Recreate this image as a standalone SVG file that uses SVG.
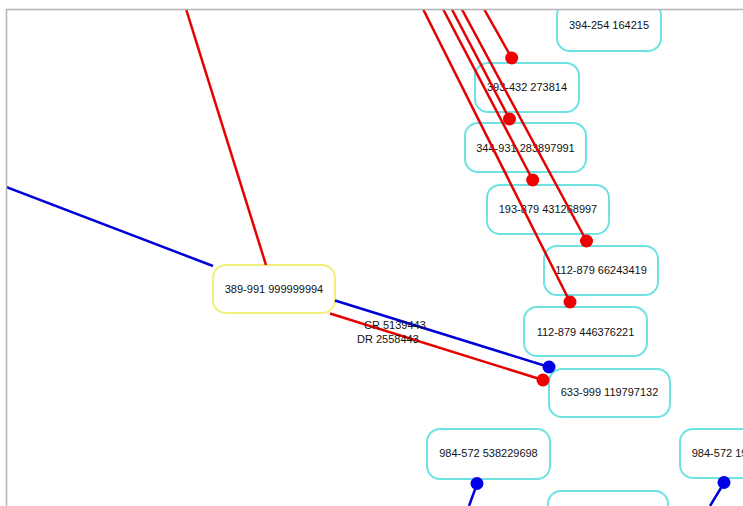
<svg xmlns="http://www.w3.org/2000/svg" width="743" height="506" viewBox="0 0 743 506">
<defs>
<clipPath id="vp"><rect x="6" y="9" width="737" height="497"/></clipPath>
<style>
.n rect{fill:#fff;stroke:#6fe3e3;stroke-width:2}
.y rect{fill:#fff;stroke:#f2f07a;stroke-width:2}
text{font-family:"Liberation Sans",Arial,sans-serif;font-size:11px;fill:#111}
.n text,.y text{text-anchor:middle}
.r{stroke:#e60000;stroke-width:2.5;fill:none}
.b{stroke:#0000d8;stroke-width:2.5;fill:none}
.rd{fill:#f00000}
.bd{fill:#0000e6}
</style>
</defs>
<rect width="743" height="506" fill="#fff"/>
<g clip-path="url(#vp)">
<g id="nodes">
<g id="n394" class="n"><rect x="557" y="2" width="104" height="49" rx="13"/><text x="609" y="29">394-254 164215</text></g>
<g id="n393" class="n"><rect x="475" y="63" width="104" height="49" rx="13"/><text x="527" y="91">393-432 273814</text></g>
<g id="n344" class="n"><rect x="465" y="123" width="121" height="49" rx="13"/><text x="525.5" y="152">344-931 283897991</text></g>
<g id="n193" class="n"><rect x="487" y="185" width="122" height="49" rx="13"/><text x="548" y="213">193-879 431268997</text></g>
<g id="n112a" class="n"><rect x="544" y="246" width="114" height="49" rx="13"/><text x="601" y="274">112-879 66243419</text></g>
<g id="n112b" class="n"><rect x="524" y="307" width="123" height="49" rx="13"/><text x="585.5" y="336">112-879 446376221</text></g>
<g id="n633" class="n"><rect x="549" y="369" width="121" height="48" rx="13"/><text x="609.5" y="396">633-999 119797132</text></g>
<g id="n984a" class="n"><rect x="427" y="429" width="123" height="50" rx="13"/><text x="488.5" y="457">984-572 538229698</text></g>
<g id="n984b" class="n"><rect x="680" y="429" width="122" height="49" rx="13"/><text x="741" y="457">984-572 198229698</text></g>
<g id="nbottom" class="n"><rect x="548" y="491" width="120" height="49" rx="13"/></g>
<g id="n389" class="y"><rect x="213" y="265" width="122" height="48" rx="13"/><text x="274" y="293">389-991 999999994</text></g>
</g>
<g id="connectors">
<line class="r" x1="186" y1="9" x2="266" y2="265"/>
<line class="b" x1="6" y1="187" x2="213" y2="266"/>
<line class="b" x1="335" y1="300.5" x2="549" y2="367"/>
<line class="r" x1="330" y1="313.5" x2="543" y2="380"/>
<line class="r" x1="423" y1="9" x2="570" y2="302"/>
<line class="r" x1="443" y1="9" x2="532.7" y2="180"/>
<line class="r" x1="451.7" y1="9" x2="509.5" y2="119"/>
<line class="r" x1="461.7" y1="9" x2="586.5" y2="241"/>
<line class="r" x1="484" y1="9" x2="511.7" y2="58"/>
<line class="b" x1="477" y1="484" x2="469" y2="506"/>
<line class="b" x1="724" y1="483" x2="710" y2="506"/>
<circle class="bd" cx="549" cy="367" r="6.5"/>
<circle class="rd" cx="543" cy="380" r="6.5"/>
<circle class="rd" cx="511.7" cy="58" r="6.5"/>
<circle class="rd" cx="509.5" cy="119" r="6.5"/>
<circle class="rd" cx="532.7" cy="180" r="6.5"/>
<circle class="rd" cx="586.5" cy="241" r="6.5"/>
<circle class="rd" cx="570" cy="302" r="6.5"/>
<circle class="bd" cx="477" cy="483.5" r="6.5"/>
<circle class="bd" cx="724" cy="482.5" r="6.5"/>
<text x="364" y="329">CR 5139443</text>
<text x="357" y="343">DR 2558443</text>
</g>
</g>
<path d="M743 9.5H6.5V506" fill="none" stroke="#b4b4b4" stroke-width="1.5"/>
</svg>
